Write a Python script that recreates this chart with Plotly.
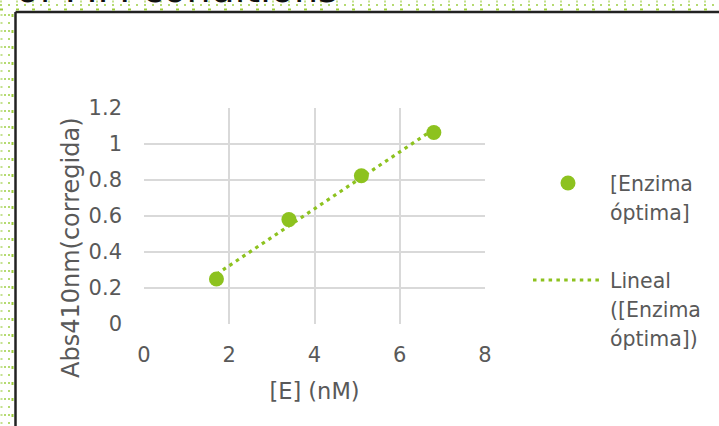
import numpy as np
import plotly.graph_objects as go

# Enzyme concentration vs corrected absorbance at 410 nm
enzyme_nM = [1.7, 3.4, 5.1, 6.8]
abs410 = [0.25, 0.58, 0.824, 1.064]

series_name = "[Enzima óptima]"
trend_name = "Lineal ([Enzima óptima])"
x_title = "[E] (nM)"
y_title = "Abs410nm(corregida)"
x_ticks = [0, 2, 4, 6, 8]
y_ticks = [0, 0.2, 0.4, 0.6, 0.8, 1.0, 1.2]

GREEN = "#8dc21f"
TEXT = "#595959"
GRID = "#d9d9d9"
FONT = "DejaVu Sans"

W, H = 719, 426
L, R, T, B = 144, 234, 108, 102
PW, PH = W - L - R, H - T - B


def px(x):
    """page pixel x -> paper x"""
    return (x - L) / PW


def py(y):
    """page pixel y -> paper y"""
    return (H - B - y) / PH


# least-squares linear trend over the measured range
slope, intercept = np.polyfit(enzyme_nM, abs410, 1)
trend_x = [min(enzyme_nM), max(enzyme_nM)]
trend_y = [slope * v + intercept for v in trend_x]

fig = go.Figure()
fig.add_trace(go.Scatter(
    x=trend_x, y=trend_y, mode="lines", name=trend_name,
    line=dict(color=GREEN, width=3.2, dash="3.5px,4.3px"),
    showlegend=False, hoverinfo="skip"))
fig.add_trace(go.Scatter(
    x=enzyme_nM, y=abs410, mode="markers", name=series_name,
    marker=dict(color=GREEN, size=15), showlegend=False))

shapes = []
annotations = []

# chart frame
shapes.append(dict(type="line", xref="paper", yref="paper",
                   x0=px(15.5), x1=px(W + 5), y0=py(12), y1=py(12),
                   line=dict(color="#222222", width=2.5), layer="below"))
shapes.append(dict(type="line", xref="paper", yref="paper",
                   x0=px(15.5), x1=px(15.5), y0=py(12), y1=py(H + 5),
                   line=dict(color="#222222", width=2.5), layer="below"))

# dotted slide texture in the top and left strips
for yy, dash, col in [(1.5, "2px,14px", "#c4e28e"), (5, "2px,6px", "#b5da72"),
                      (9.5, "3px,13px", "#9ccb3c")]:
    shapes.append(dict(type="line", xref="paper", yref="paper",
                       x0=px(0), x1=px(W), y0=py(yy), y1=py(yy),
                       line=dict(color=col, width=2, dash=dash), layer="below"))
for xx, dash, col in [(1.5, "2px,6px", "#c4e28e"), (5, "2px,14px", "#b5da72"),
                      (9, "2px,6px", "#b5da72"), (12.5, "3px,13px", "#9ccb3c")]:
    shapes.append(dict(type="line", xref="paper", yref="paper",
                       x0=px(xx), x1=px(xx), y0=py(14), y1=py(H),
                       line=dict(color=col, width=2, dash=dash), layer="below"))

# slide heading, mostly above the visible area
annotations.append(dict(text="of MM conditions", xref="paper", yref="paper",
                        x=px(14), y=py(12.5), xanchor="left", yanchor="bottom",
                        showarrow=False, font=dict(family=FONT, size=38, color="#111111")))

# vertical axis title
annotations.append(dict(text=y_title, xref="paper", yref="paper",
                        x=px(71), y=py(248), xanchor="center", yanchor="middle",
                        textangle=-90, showarrow=False,
                        font=dict(family=FONT, size=24, color=TEXT)))

# legend
shapes.append(dict(type="circle", xref="paper", yref="paper",
                   x0=px(560.5), x1=px(575.5), y0=py(190.5), y1=py(175.5),
                   fillcolor=GREEN, line=dict(width=0)))
shapes.append(dict(type="line", xref="paper", yref="paper",
                   x0=px(533), x1=px(599), y0=py(280), y1=py(280),
                   line=dict(color=GREEN, width=3.2, dash="3.5px,4.3px")))
legend_lines = [("[Enzima", 184), ("óptima]", 213),
                ("Lineal", 281), ("([Enzima", 310), ("óptima])", 339)]
for txt, yy in legend_lines:
    annotations.append(dict(text=txt, xref="paper", yref="paper",
                            x=px(608), y=py(yy), xanchor="left", yanchor="middle",
                            showarrow=False, font=dict(family=FONT, size=20.5, color=TEXT)))

fig.update_layout(
    width=W, height=H,
    margin=dict(l=L, r=R, t=T, b=B, pad=0),
    paper_bgcolor="white", plot_bgcolor="white",
    font=dict(family=FONT, color=TEXT),
    showlegend=False,
    shapes=shapes, annotations=annotations,
    xaxis=dict(range=[0, 8], tickvals=x_ticks, showgrid=True, gridcolor=GRID,
               gridwidth=1.6, zeroline=False, showline=False, ticks="",
               tickfont=dict(size=21, color=TEXT), ticklabelstandoff=16,
               title=dict(text=x_title, font=dict(size=22.5, color=TEXT), standoff=17),
               fixedrange=True),
    yaxis=dict(range=[0, 1.2], tickvals=y_ticks, showgrid=True, gridcolor=GRID,
               gridwidth=1.6, zeroline=False, showline=False, ticks="",
               tickfont=dict(size=21, color=TEXT), ticklabelstandoff=21,
               fixedrange=True),
)

fig.write_html("out.html")
